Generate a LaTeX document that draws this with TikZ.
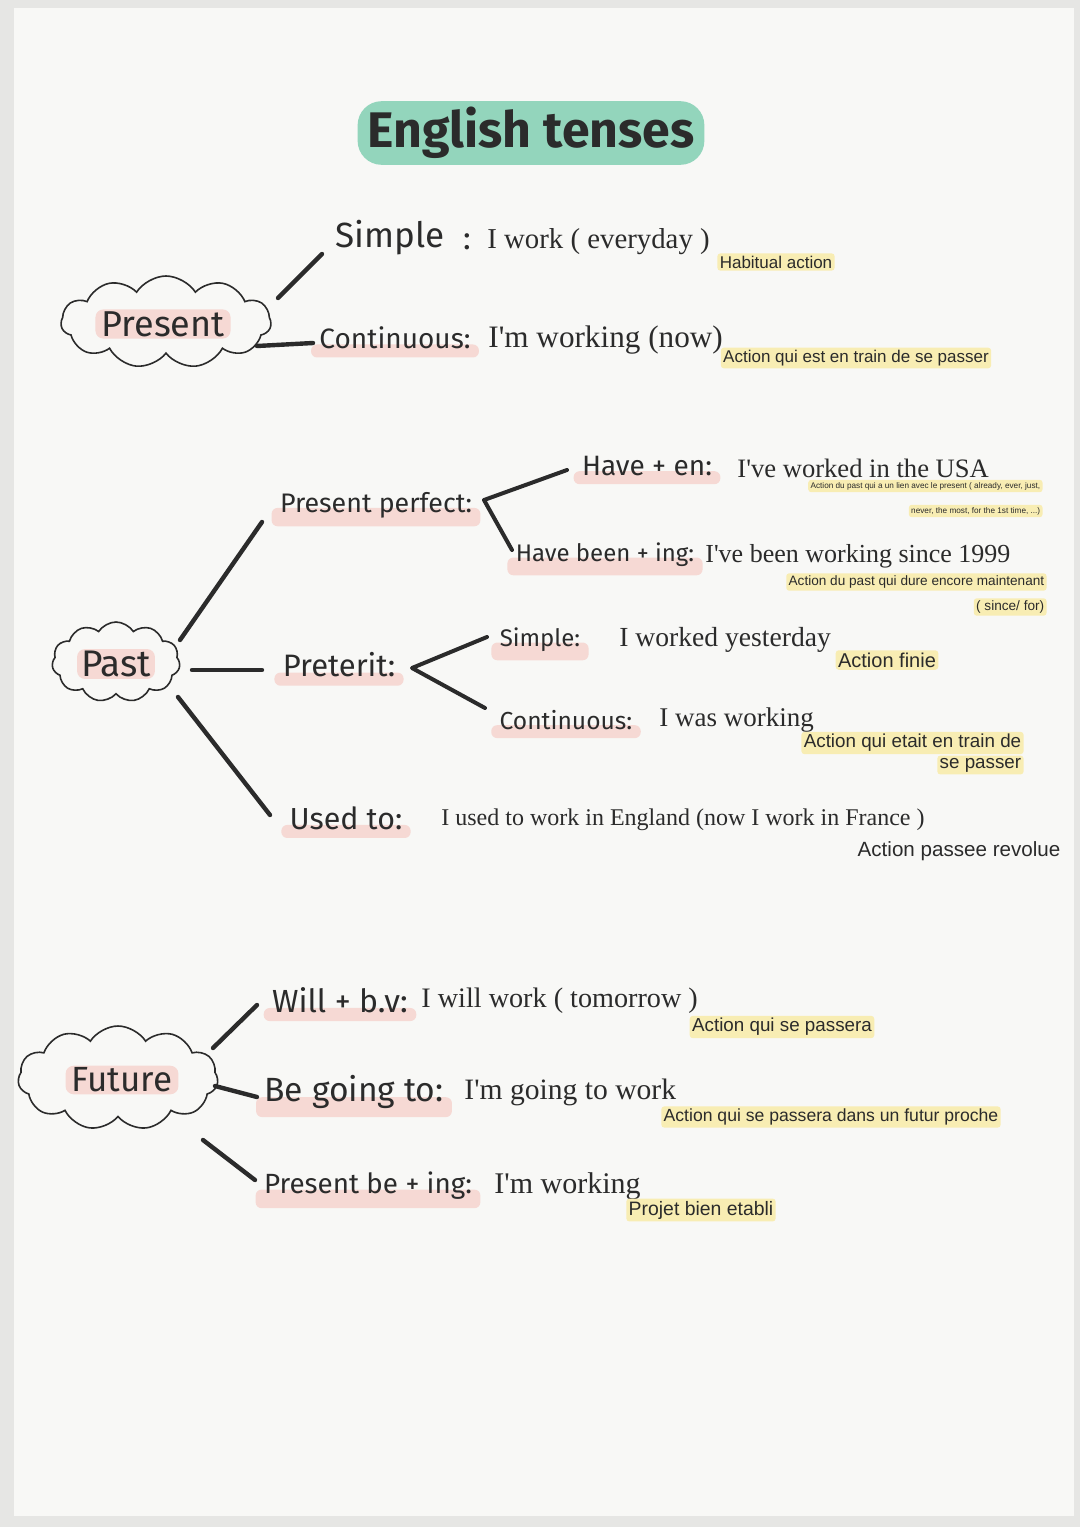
\documentclass[tikz,border=0pt]{standalone}
\usepackage{fontspec}
\usetikzlibrary{shapes.symbols}
\newfontfamily\handf{Fira Sans}
\newfontfamily\exf{Liberation Serif}
\newfontfamily\notef{Liberation Sans}
\definecolor{ink}{HTML}{2B2B2B}
\definecolor{pinkhl}{HTML}{F6D9D4}
\definecolor{yelhl}{HTML}{F8EDB3}
\definecolor{tealhl}{HTML}{93D5BC}
\definecolor{paper}{HTML}{F8F8F6}
\definecolor{edgegray}{HTML}{E6E6E4}
\pgfdeclarelayer{paperlayer}\pgfdeclarelayer{bg}\pgfsetlayers{paperlayer,bg,main}
\newcommand\pinkunder[1]{\fill[pinkhl, rounded corners=3pt] ([xshift=-3pt,yshift=-3pt]#1.south west) rectangle ([xshift=3pt,yshift=0pt]#1.mid east);}
\newcommand\fs[1]{\fontsize{#1}{#1}\selectfont}
\begin{document}
\begin{tikzpicture}[x=0.5pt,y=-0.5pt,
 hand/.style={font=\handf\fs{13}, text=ink, inner sep=1pt},
 ex/.style={font=\exf\fs{13}, text=ink, inner sep=1pt, anchor=west},
 note/.style={font=\notef\fs{9.2}, text=ink, fill=yelhl, inner sep=1.2pt, rounded corners=1.5pt},
 branch/.style={line width=2.2pt, draw=ink, line cap=round, line join=round},
 puff/.style={cloud, draw=ink, line width=0.8pt, cloud puffs=11, cloud puff arc=115, inner sep=0pt},
]
\begin{pgfonlayer}{paperlayer}
\fill[edgegray] (0,0) rectangle (1080,1527);
\fill[paper] (14,8) rectangle (1074,1516);
\end{pgfonlayer}

% title
\node[font=\handf\bfseries\fs{25}, text=ink, fill=tealhl, rounded corners=12pt, inner xsep=5pt, inner ysep=3pt] (title) at (531,133) {English tenses};

% ---------- Present ----------
\node[puff, minimum width=105pt, minimum height=46pt] (presentc) at (166,322) {};
\node[hand, font=\handf\fs{18}, fill=pinkhl, rounded corners=4pt, inner xsep=3pt] (present) at (163,324) {Present};
\coordinate (pA1) at (278,298); \coordinate (pA2) at (322,254);
\coordinate (pB1) at (257,346); \coordinate (pB2) at (313,343);
\draw[branch] (pA1) -- (pA2);
\draw[branch] (pB1) -- (pB2);

\node[hand, font=\handf\fs{17.5}] (psimple) at (390,238) {Simple};
\node[hand, font=\handf\fs{16}] (pcolon) at (467,242) {:};
\node[ex, font=\exf\fs{14.4}] (psimpleex) at (485,242) {I work ( everyday )};
\node[note, font=\notef\fs{8.5}] (psimplen) at (776,262) {Habitual action};

\node[hand, font=\handf\fs{14}] (pcont) at (395,338) {Continuous:};
\node[ex, font=\exf\fs{15.6}] (pcontex) at (486,340) {I'm working (now)};
\node[note, font=\notef\fs{8.5}] (pcontn) at (856,358) {Action qui est en train de se passer};

% ---------- Past ----------
\node[puff, minimum width=64pt, minimum height=40pt] (pastc) at (116,662) {};
\node[hand, font=\handf\fs{18.5}, fill=pinkhl, rounded corners=4pt, inner xsep=2pt] (past) at (116,664) {Past};
\coordinate (sA1) at (180,640); \coordinate (sA2) at (262,522);
\coordinate (sB1) at (192,670); \coordinate (sB2) at (262,670);
\coordinate (sC1) at (178,697); \coordinate (sC2) at (270,815);
\draw[branch] (sA1) -- (sA2);
\draw[branch] (sB1) -- (sB2);
\draw[branch] (sC1) -- (sC2);

\node[hand, font=\handf\fs{13.4}] (pperf) at (376,505) {Present perfect:};
\coordinate (ppA) at (567,470); \coordinate (ppC) at (484,500); \coordinate (ppB) at (512,550);
\draw[branch, line width=2pt] (ppA) -- (ppC) -- (ppB);
\node[hand, font=\handf\fs{14}] (haveen) at (647,466) {Have + en:};
\node[ex, font=\exf\fs{13.3}] (haveenex) at (735,468) {I've worked in the USA};
\node[note, font=\notef\fs{4.1}, anchor=east] (haveenn1) at (1043,486) {Action du past qui a un lien avec le present ( already, ever, just,};
\node[note, font=\notef\fs{4.1}, anchor=east] (haveenn2) at (1043,511) {never, the most, for the 1st time, ...)};
\node[hand, font=\handf\fs{12}] (havebeen) at (605,555) {Have been + ing:};
\node[ex] (havebeenex) at (703,556) {I've been working since 1999};
\node[note, font=\notef\fs{6.8}, anchor=east] (havebeenn1) at (1047,582) {Action du past qui dure encore maintenant};
\node[note, font=\notef\fs{6.8}, anchor=east] (havebeenn2) at (1047,607) {( since/ for)};

\node[hand, font=\handf\fs{15.5}] (pret) at (339,665) {Preterit:};
\coordinate (prA) at (487,637); \coordinate (prC) at (412,668); \coordinate (prB) at (485,708);
\draw[branch, line width=2pt] (prA) -- (prC) -- (prB);
\node[hand, font=\handf\fs{12}] (psimp) at (540,640) {Simple:};
\node[ex, font=\exf\fs{13.8}] (psimpex) at (617,640) {I worked yesterday};
\node[note, font=\notef\fs{10}] (psimpn) at (887,660) {Action finie};
\node[hand, font=\handf\fs{12.3}] (pcon) at (566,720) {Continuous:};
\node[ex, font=\exf\fs{13.5}] (pconex) at (657,720) {I was working};
\node[note, font=\notef\fs{9.4}, anchor=east] (pconn1) at (1024,743) {Action qui etait en train de};
\node[note, font=\notef\fs{9.4}, anchor=east] (pconn2) at (1024,765) {se passer};

\node[hand, font=\handf\fs{15.2}] (used) at (346,818) {Used to:};
\node[ex, font=\exf\fs{12}] (usedex) at (439,820) {I used to work in England (now I work in France )};
\node[font=\notef\fs{10.3}, text=ink, inner sep=1pt] (usedn) at (959,851) {Action passee revolue};

% ---------- Future ----------
\node[puff, minimum width=100pt, minimum height=52pt] (futurec) at (118,1078) {};
\node[hand, font=\handf\fs{17.5}, fill=pinkhl, rounded corners=4pt, inner xsep=3pt] (future) at (122,1080) {Future};
\coordinate (fA1) at (213,1048); \coordinate (fA2) at (257,1005);
\coordinate (fB1) at (215,1086); \coordinate (fB2) at (257,1097);
\coordinate (fC1) at (203,1140); \coordinate (fC2) at (255,1180);
\draw[branch] (fA1) -- (fA2);
\draw[branch] (fB1) -- (fB2);
\draw[branch] (fC1) -- (fC2);

\node[hand, font=\handf\fs{16}] (will) at (340,1000) {Will + b.v:};
\node[ex, font=\exf\fs{14.1}] (willex) at (419,1001) {I will work ( tomorrow )};
\node[note, font=\notef\fs{9.4}] (willn) at (782,1027) {Action qui se passera};
\node[hand, font=\handf\fs{16.8}] (going) at (354,1092) {Be going to:};
\node[ex, font=\exf\fs{14.8}] (goingex) at (462,1092) {I'm going to work};
\node[note, font=\notef\fs{8.8}] (goingn) at (831,1117) {Action qui se passera dans un futur proche};
\node[hand, font=\handf\fs{13.9}] (prbe) at (368,1186) {Present be + ing:};
\node[ex, font=\exf\fs{15}] (prbeex) at (492,1186) {I'm working};
\node[note, font=\notef\fs{9.7}] (prben) at (701,1210) {Projet bien etabli};

\begin{pgfonlayer}{bg}
\pinkunder{pcont}
\pinkunder{pperf}
\pinkunder{haveen}
\pinkunder{havebeen}
\pinkunder{pret}
\pinkunder{psimp}
\pinkunder{pcon}
\pinkunder{used}
\pinkunder{will}
\pinkunder{going}
\pinkunder{prbe}
\end{pgfonlayer}
\end{tikzpicture}
\end{document}
